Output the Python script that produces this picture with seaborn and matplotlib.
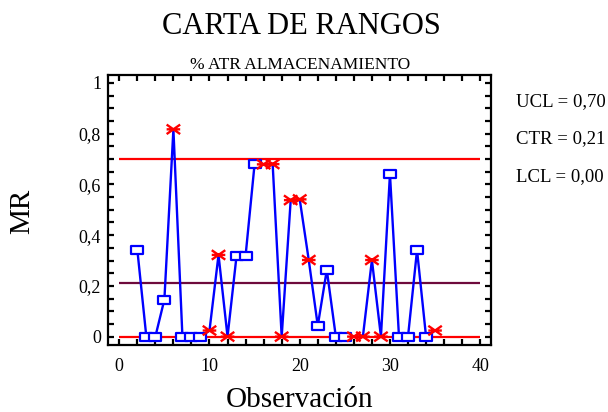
import numpy as np
import pandas as pd
import matplotlib
matplotlib.use("Agg")
import matplotlib.pyplot as plt
from matplotlib.path import Path
from matplotlib.ticker import MultipleLocator, FuncFormatter
import seaborn as sns

# Moving ranges of "% ATR ALMACENAMIENTO" (observation 2 onward)
observacion = list(range(2, 36))
rango_movil = [0.343, 0.0, 0.0, 0.146, 0.817, 0.0, 0.0, 0.0, 0.024, 0.322,
               0.0, 0.319, 0.319, 0.681, 0.679, 0.680, 0.0, 0.538, 0.541, 0.302,
               0.043, 0.263, 0.0, 0.0, 0.0, 0.0, 0.302, 0.0, 0.641, 0.0,
               0.0, 0.341, 0.0, 0.024]
# Points flagged by the run rules are drawn with a star
senal = [0, 0, 0, 0, 1, 0, 0, 0, 1, 1,
         1, 0, 0, 0, 1, 1, 1, 1, 1, 1,
         0, 0, 0, 0, 1, 1, 1, 1, 0, 0,
         0, 0, 0, 1]

ucl, ctr, lcl = 0.70, 0.213, 0.0
limites_texto = ["UCL = 0,70", "CTR = 0,21", "LCL = 0,00"]

df = pd.DataFrame({"obs": observacion, "mr": rango_movil, "senal": senal})

sns.set_theme(style="ticks")
plt.rcParams["font.family"] = ["Liberation Serif", "DejaVu Serif"]
plt.rcParams["axes.linewidth"] = 1.6
plt.rcParams["text.color"] = "black"
plt.rcParams["axes.labelcolor"] = "black"
plt.rcParams["xtick.color"] = "black"
plt.rcParams["ytick.color"] = "black"

fig = plt.figure(figsize=(6.08, 4.12), dpi=100)
ax = fig.add_axes([0.1776, 0.1626, 0.630, 0.6553])

# control limits
ax.hlines([ucl, lcl], 0, 40, colors="#ff0000", linewidth=1.6, zorder=2)
ax.hlines(ctr, 0, 40, colors="#6e0a3c", linewidth=1.6, zorder=2)

# moving range line
sns.lineplot(data=df, x="obs", y="mr", color="#0000ff", linewidth=1.7,
             ax=ax, zorder=3, legend=False)

# markers
rect = Path([(-1, -0.62), (1, -0.62), (1, 0.62), (-1, 0.62), (-1, -0.62)],
            [Path.MOVETO, Path.LINETO, Path.LINETO, Path.LINETO, Path.CLOSEPOLY])
star = Path([(-1, 0), (1, 0), (-1, -0.7), (1, 0.7), (-1, 0.7), (1, -0.7)],
            [Path.MOVETO, Path.LINETO, Path.MOVETO, Path.LINETO, Path.MOVETO, Path.LINETO])

sns.scatterplot(data=df[df["senal"] == 0], x="obs", y="mr", marker=rect, s=72,
                color="#0000ff", facecolor="white", edgecolor="#0000ff",
                linewidth=1.6, ax=ax, zorder=4, legend=False)
sns.scatterplot(data=df[df["senal"] == 1], x="obs", y="mr", marker=star, s=95,
                color="#ff0000", facecolor="none", edgecolor="#ff0000",
                linewidth=1.7, ax=ax, zorder=4, legend=False)

ax.set_xlim(-1.25, 41.2)
ax.set_ylim(-0.033, 1.031)
ax.xaxis.set_major_locator(MultipleLocator(10))
ax.xaxis.set_minor_locator(MultipleLocator(2))
ax.yaxis.set_major_locator(MultipleLocator(0.2))
ax.yaxis.set_minor_locator(MultipleLocator(0.05))


def coma(v, pos):
    s = f"{v:.1f}".rstrip("0").rstrip(".")
    return s.replace(".", ",")


ax.yaxis.set_major_formatter(FuncFormatter(coma))
ax.xaxis.set_major_formatter(FuncFormatter(lambda v, p: f"{v:.0f}"))
ax.tick_params(which="both", direction="in", top=True, right=True,
               length=4.5, width=1.6, color="black", labelsize=13, labelcolor="black")
ax.tick_params(axis="x", which="major", pad=9)
ax.tick_params(axis="y", which="major", pad=5)
for s in ax.spines.values():
    s.set_visible(True)
    s.set_color("black")

ax.set_xlabel("Observación", fontsize=21, color="black")
ax.set_ylabel("MR", fontsize=21, color="black")
ax.xaxis.set_label_coords(0.5, -0.155)
ax.yaxis.set_label_coords(-0.19, 0.494)

fig.text(0.495, 0.9167, "CARTA DE RANGOS", ha="center", va="baseline",
         fontsize=22, color="black")
fig.text(0.494, 0.832, "% ATR ALMACENAMIENTO", ha="center", va="baseline",
         fontsize=12.5, color="black")

for txt, yb in zip(limites_texto, [0.7427, 0.652, 0.5614]):
    fig.text(0.849, yb, txt, ha="left", va="baseline", fontsize=13.5, color="black")

fig.savefig("out.png", dpi=100)
